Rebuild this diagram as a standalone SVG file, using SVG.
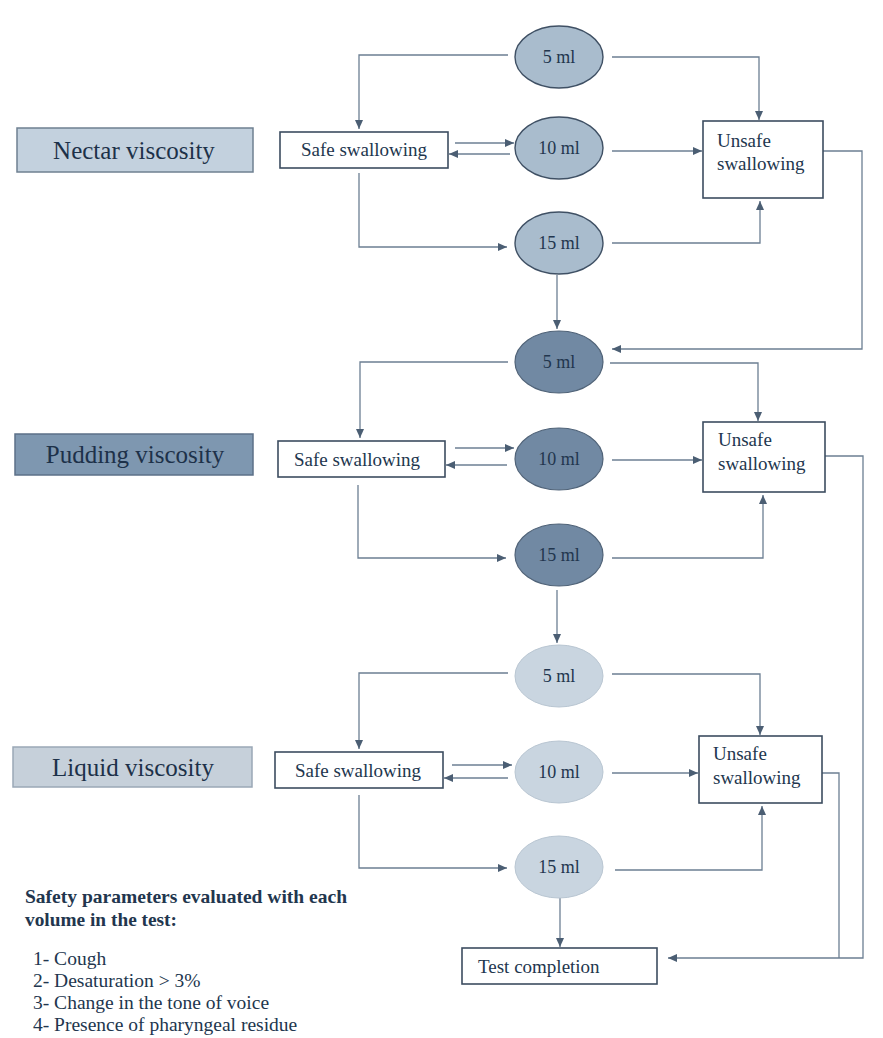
<svg xmlns="http://www.w3.org/2000/svg" width="883" height="1038" viewBox="0 0 883 1038">
  <defs>
    <style>
      text { font-family: "Liberation Serif", "Times New Roman", serif; fill: #22364e; }
      .lbl { font-size: 25px; text-anchor: middle; fill: #1d3149; }
      .box { fill: #ffffff; stroke: #3c4d60; stroke-width: 1.6; }
      .box-t { font-size: 19px; }
      .vol { font-size: 18px; text-anchor: middle; }
      .conn { fill: none; stroke: #6c7f93; stroke-width: 1.3; }
      .arr { marker-end: url(#tip); }
      .legend { font-size: 19.5px; }
      .legend-h { font-size: 19px; font-weight: bold; }
    </style>
    <marker id="tip" markerUnits="userSpaceOnUse" markerWidth="10" markerHeight="10" viewBox="0 0 10 10" refX="9" refY="5" orient="auto">
      <path d="M0,1 L9,5 L0,9 Z" fill="#4b5e73"/>
    </marker>
  </defs>

  <rect width="883" height="1038" fill="#ffffff"/>

  <!-- connectors -->
  <g id="connectors">
    <!-- nectar block -->
    <path class="conn arr" d="M508 55 H359 V129"/>
    <path class="conn arr" d="M612 57 H759 V120"/>
    <path class="conn arr" d="M455 143 H514"/>
    <path class="conn arr" d="M510 154 H449"/>
    <path class="conn arr" d="M612 151 H702"/>
    <path class="conn arr" d="M359 173 V247 H507"/>
    <path class="conn arr" d="M612 243 H760 V201"/>
    <path class="conn arr" d="M823 151 H862 V349 H612"/>
    <path class="conn arr" d="M557 275 V329"/>
    <!-- pudding block -->
    <path class="conn arr" d="M508 362 H360 V438"/>
    <path class="conn arr" d="M610 363 H758 V421"/>
    <path class="conn arr" d="M455 448 H514"/>
    <path class="conn arr" d="M507 465 H446"/>
    <path class="conn arr" d="M612 460 H702"/>
    <path class="conn arr" d="M358 485 V558 H506"/>
    <path class="conn arr" d="M612 558 H763 V495"/>
    <path class="conn arr" d="M825 456 H863 V958 H668"/>
    <path class="conn arr" d="M557 590 V643"/>
    <!-- liquid block -->
    <path class="conn arr" d="M508 673 H359 V749"/>
    <path class="conn arr" d="M612 674 H760 V735"/>
    <path class="conn arr" d="M452 765 H512"/>
    <path class="conn arr" d="M508 778 H444"/>
    <path class="conn arr" d="M612 773 H698"/>
    <path class="conn arr" d="M359 795 V868 H507"/>
    <path class="conn arr" d="M615 870 H762 V806"/>
    <path class="conn" d="M822 773 H839 V958"/>
    <path class="conn arr" d="M560 898 V947"/>
  </g>

  <!-- nectar viscosity -->
  <g id="nectar-label">
    <rect x="17" y="128" width="236" height="44" fill="#c3d1de" stroke="#6f8091" stroke-width="1.5"/>
    <text class="lbl" x="134" y="159">Nectar viscosity</text>
  </g>
  <g id="nectar-safe">
    <rect class="box" x="280" y="132" width="168" height="36"/>
    <text class="box-t" x="364" y="156" text-anchor="middle">Safe swallowing</text>
  </g>
  <g id="nectar-5ml">
    <ellipse cx="559" cy="57" rx="44" ry="31" fill="#a9bccd" stroke="#3f5064" stroke-width="1.4"/>
    <text class="vol" x="559" y="63">5 ml</text>
  </g>
  <g id="nectar-10ml">
    <ellipse cx="559" cy="148" rx="44" ry="31" fill="#a9bccd" stroke="#3f5064" stroke-width="1.4"/>
    <text class="vol" x="559" y="154">10 ml</text>
  </g>
  <g id="nectar-15ml">
    <ellipse cx="559" cy="243" rx="44" ry="31" fill="#a9bccd" stroke="#3f5064" stroke-width="1.4"/>
    <text class="vol" x="559" y="249">15 ml</text>
  </g>
  <g id="nectar-unsafe">
    <rect class="box" x="703" y="121" width="120" height="77"/>
    <text class="box-t" x="717" y="147">Unsafe</text>
    <text class="box-t" x="717" y="170">swallowing</text>
  </g>

  <!-- pudding viscosity -->
  <g id="pudding-label">
    <rect x="15" y="434" width="238" height="41" fill="#7e97b0" stroke="#5c7088" stroke-width="1.5"/>
    <text class="lbl" x="135" y="463">Pudding viscosity</text>
  </g>
  <g id="pudding-safe">
    <rect class="box" x="278" y="441" width="167" height="36"/>
    <text class="box-t" x="357" y="466" text-anchor="middle">Safe swallowing</text>
  </g>
  <g id="pudding-5ml">
    <ellipse cx="559" cy="362" rx="44" ry="31" fill="#7189a3" stroke="#506378" stroke-width="1.2"/>
    <text class="vol" x="559" y="368">5 ml</text>
  </g>
  <g id="pudding-10ml">
    <ellipse cx="559" cy="459" rx="44" ry="31" fill="#7189a3" stroke="#506378" stroke-width="1.2"/>
    <text class="vol" x="559" y="465">10 ml</text>
  </g>
  <g id="pudding-15ml">
    <ellipse cx="559" cy="555" rx="44" ry="31" fill="#7189a3" stroke="#506378" stroke-width="1.2"/>
    <text class="vol" x="559" y="561">15 ml</text>
  </g>
  <g id="pudding-unsafe">
    <rect class="box" x="703" y="422" width="122" height="70"/>
    <text class="box-t" x="718" y="446">Unsafe</text>
    <text class="box-t" x="718" y="470">swallowing</text>
  </g>

  <!-- liquid viscosity -->
  <g id="liquid-label">
    <rect x="13" y="747" width="239" height="40" fill="#c6d0da" stroke="#9aa8b6" stroke-width="1.5"/>
    <text class="lbl" x="133" y="776">Liquid viscosity</text>
  </g>
  <g id="liquid-safe">
    <rect class="box" x="275" y="752" width="168" height="36"/>
    <text class="box-t" x="358" y="777" text-anchor="middle">Safe swallowing</text>
  </g>
  <g id="liquid-5ml">
    <ellipse cx="559" cy="676" rx="44" ry="31" fill="#c9d5e0" stroke="#b9c6d2" stroke-width="1"/>
    <text class="vol" x="559" y="682">5 ml</text>
  </g>
  <g id="liquid-10ml">
    <ellipse cx="559" cy="772" rx="44" ry="31" fill="#c9d5e0" stroke="#b9c6d2" stroke-width="1"/>
    <text class="vol" x="559" y="778">10 ml</text>
  </g>
  <g id="liquid-15ml">
    <ellipse cx="559" cy="867" rx="44" ry="31" fill="#c9d5e0" stroke="#b9c6d2" stroke-width="1"/>
    <text class="vol" x="559" y="873">15 ml</text>
  </g>
  <g id="liquid-unsafe">
    <rect class="box" x="699" y="736" width="123" height="67"/>
    <text class="box-t" x="713" y="760">Unsafe</text>
    <text class="box-t" x="713" y="784">swallowing</text>
  </g>

  <!-- end of test -->
  <g id="test-completion">
    <rect class="box" x="462" y="948" width="195" height="36"/>
    <text class="box-t" x="478" y="973">Test completion</text>
  </g>

  <!-- safety parameters legend -->
  <g id="legend">
    <text class="legend-h" x="25" y="903" textLength="322" lengthAdjust="spacingAndGlyphs">Safety parameters evaluated with each</text>
    <text class="legend-h" x="25" y="926" textLength="152" lengthAdjust="spacingAndGlyphs">volume in the test:</text>
    <text class="legend" x="33" y="965">1- Cough</text>
    <text class="legend" x="33" y="987">2- Desaturation &gt; 3%</text>
    <text class="legend" x="33" y="1009">3- Change in the tone of voice</text>
    <text class="legend" x="33" y="1031">4- Presence of pharyngeal residue</text>
  </g>
</svg>
